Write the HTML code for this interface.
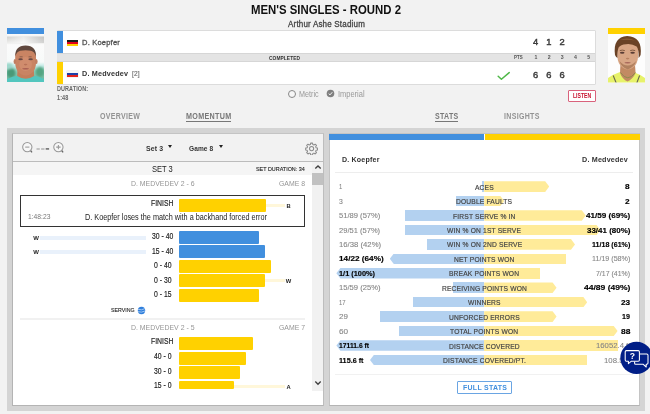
<!DOCTYPE html>
<html lang="en"><head><meta charset="utf-8"><title>Men's Singles - Round 2</title>
<style>
html,body{margin:0;padding:0}
body{width:650px;height:414px;position:relative;overflow:hidden;background:#f2f2f2;font-family:"Liberation Sans",Arial,sans-serif;}
#r{position:absolute;left:0;top:0;width:650px;height:414px;overflow:hidden}
#r>div,#r>span,#r>svg{position:absolute;display:block}
#r>span{white-space:nowrap}
</style></head><body><div id="r">
<span id="t0" style="top:3.3px;font-size:12.6px;line-height:14.49px;color:#111;font-weight:700;left:251.0px;transform:scaleX(0.9034);transform-origin:0 0;">MEN'S SINGLES - ROUND 2</span>
<span id="t1" style="top:20.21px;font-size:8.5px;line-height:9.77px;color:#444;font-weight:400;letter-spacing:0.2px;-webkit-text-stroke:0.3px #444;left:288.0px;transform:scaleX(0.9416);transform-origin:0 0;">Arthur Ashe Stadium</span>
<div style="left:6.8px;top:28.3px;width:37px;height:5.8px;background:#418fde;"></div>
<svg style="left:6.8px;top:34px" width="37" height="48.4" viewBox="0 0 37 48.4">
<defs>
<linearGradient id="lp" x1="0" y1="0" x2="0" y2="1"><stop offset="0" stop-color="#fafafa"/><stop offset="0.045" stop-color="#f4f4f4"/><stop offset="0.06" stop-color="#d2d2d0"/><stop offset="0.19" stop-color="#f0f0ee"/><stop offset="0.22" stop-color="#fbfbfb"/><stop offset="0.58" stop-color="#f7faf9"/><stop offset="0.66" stop-color="#c4ebe6"/><stop offset="0.76" stop-color="#8fd0bc"/><stop offset="1" stop-color="#62b092"/></linearGradient>
<linearGradient id="lb" x1="0" y1="0" x2="1" y2="0"><stop offset="0" stop-color="#fff" stop-opacity="0"/><stop offset="0.45" stop-color="#fff" stop-opacity="0.55"/><stop offset="1" stop-color="#b8b8b8" stop-opacity="0.5"/></linearGradient>
<filter id="bl" x="-20%" y="-20%" width="140%" height="140%"><feGaussianBlur stdDeviation="0.55"/></filter>
<filter id="bl2" x="-20%" y="-20%" width="140%" height="140%"><feGaussianBlur stdDeviation="1.1"/></filter>
<clipPath id="cl"><rect width="37" height="48.4"/></clipPath>
</defs>
<rect width="37" height="48.4" fill="url(#lp)"/>
<rect y="2.6" width="37" height="6.4" fill="url(#lb)"/>
<g clip-path="url(#cl)">
<g filter="url(#bl2)">
<ellipse cx="4" cy="39" rx="4.5" ry="5" fill="#4a9a78"/>
<ellipse cx="33" cy="38" rx="4.5" ry="5" fill="#55a482"/>
<ellipse cx="2" cy="32" rx="4" ry="3" fill="#9fd8cc"/>
</g>
<g filter="url(#bl)">
<path d="M-1 49 L-1 45.5 Q6 42.2 11.5 41.6 L26 41.6 Q31.5 42.2 38 45.5 L38 49 Z" fill="#52c6be"/>
<path d="M10.5 35 L10.2 42 Q18.6 47.5 27.2 42 L26.8 35 Z" fill="#c47e5a"/>
<path d="M8.2 25 Q7.4 13 18.6 12 Q29.8 13 29 25 Q29.6 33 26.5 37.5 Q22.5 41.6 18.6 41.6 Q14.6 41.6 10.8 37.5 Q7.6 33 8.2 25 Z" fill="#c98464"/>
<ellipse cx="7.9" cy="27.5" rx="1.3" ry="2.6" fill="#c07e60"/>
<ellipse cx="29.3" cy="27.5" rx="1.3" ry="2.6" fill="#c07e60"/>
<path d="M8.4 22.5 Q7.6 12 18.6 11.6 Q29.6 12 28.8 22.5 Q27.6 17.6 24 16.8 Q18.6 15.6 13.2 16.8 Q9.6 17.6 8.4 22.5 Z" fill="#5e463c"/>
<ellipse cx="18.6" cy="30" rx="6.4" ry="7" fill="#d39070" opacity="0.7"/>
<ellipse cx="13.6" cy="25.2" rx="2.3" ry="1" fill="#6a4a44"/>
<ellipse cx="23.6" cy="25.2" rx="2.3" ry="1" fill="#6a4a44"/>
<path d="M12.6 22.8 H15.6 M21.6 22.8 H24.6" stroke="#7a5446" stroke-width="0.8"/>
<ellipse cx="18.6" cy="30.6" rx="1.8" ry="0.8" fill="#b87258"/>
<ellipse cx="18.6" cy="34.8" rx="3.4" ry="0.8" fill="#a85e52"/>
</g>
</g>
</svg>
<div style="left:608.2px;top:28.3px;width:37px;height:5.8px;background:#ffd100;"></div>
<svg style="left:608.2px;top:34px" width="37" height="48.8" viewBox="0 0 37 48.8">
<rect width="37" height="48.8" fill="#fdfdfd"/>
<g clip-path="url(#cl)">
<g filter="url(#bl)">
<path d="M-1 50 L0 44 Q5 40.4 12 38 L25.5 38 Q32 40.4 37 44 L38 50 Z" fill="#e7f26a"/>
<path d="M5.2 41.5 L8.2 49 M31.6 41.5 L28.8 49" stroke="#6a6a50" stroke-width="1.1" fill="none"/>
<path d="M12.4 31 L12 39 Q14.5 45.5 19.5 47.5 Q24.5 45.5 27.6 39 L27 31 Z" fill="#c28a64"/>
<path d="M12.6 38.6 Q19.6 49 27.4 38.6" stroke="#8a8a4a" stroke-width="0.9" fill="none"/>
<path d="M9.2 18 Q8.6 6.5 19.6 6 Q30.8 6.5 30.2 18 Q30.6 27 27.2 31.6 Q23.4 35.6 19.8 35.6 Q16 35.6 12.4 31.6 Q8.8 27 9.2 18 Z" fill="#d8a685"/>
<path d="M11.4 27 Q13 33 19.8 35.4 Q26.4 33 28.2 27 Q24 31.6 19.8 31.6 Q15.4 31.6 11.4 27 Z" fill="#b0805e"/>
<path d="M7 21 Q4.6 3 19.2 2 Q34.6 2.6 32.6 21 Q31.6 23 30.6 24 Q31 15.6 28.6 12.6 Q24 9.4 18 10.2 Q12.6 10.6 10.6 13.6 Q9.2 17 9.4 24 Q7.8 23 7 21 Z" fill="#6a4226"/>
<path d="M12 6 Q19 2.6 27 6.4 Q21 5.4 12 6 Z" fill="#8a5a34"/>
<ellipse cx="14.2" cy="18.8" rx="2.3" ry="0.95" fill="#5a3e34"/>
<ellipse cx="24.6" cy="18.8" rx="2.3" ry="0.95" fill="#5a3e34"/>
<path d="M11.8 16.6 Q14.2 15.6 16.8 16.6 M22.2 16.6 Q24.8 15.6 27.2 16.6" stroke="#6a4630" stroke-width="0.8" fill="none"/>
<ellipse cx="19.6" cy="24.6" rx="1.8" ry="0.8" fill="#b88262"/>
<ellipse cx="19.6" cy="28.8" rx="3.2" ry="0.75" fill="#a8685a"/>
</g>
</g>
</svg>
<div style="left:56.6px;top:30px;width:539px;height:54.5px;background:#fff;border:1px solid #dcdcdc;box-sizing:border-box;border-radius:1px;"></div>
<div style="left:57px;top:53px;width:538.2px;height:8.6px;background:#e4e4e4;border-top:1px solid #d6d6d6;border-bottom:1px solid #d6d6d6;box-sizing:border-box;"></div>
<div style="left:57.2px;top:30.6px;width:5.8px;height:22.2px;background:#418fde;"></div>
<div style="left:57.2px;top:61.6px;width:5.8px;height:22.2px;background:#ffd100;"></div>
<div style="left:67.2px;top:39.6px;width:10.8px;height:6.8px;background:linear-gradient(#1a1a1a 0 33%,#e2001a 33% 66%,#ffce00 66% 100%)"></div>
<div style="left:67.2px;top:70.7px;width:10.8px;height:6.6px;background:linear-gradient(#f6f6f6 0 30%,#1c3fa8 30% 66%,#e2231a 66% 100%);box-shadow:0 0 0 0.4px #e4e4e4"></div>
<span id="t2" style="top:38.39px;font-size:8px;line-height:9.2px;color:#505050;font-weight:400;letter-spacing:0.2px;-webkit-text-stroke:0.3px #505050;left:82px;transform:scaleX(0.9438);transform-origin:0 0;">D. Koepfer</span>
<span id="t3" style="top:69.09px;font-size:8px;line-height:9.2px;color:#333;font-weight:700;letter-spacing:0.2px;left:82px;transform:scaleX(0.9036);transform-origin:0 0;">D. Medvedev</span>
<span id="t4" style="top:70.14px;font-size:6.5px;line-height:7.47px;color:#777;font-weight:400;letter-spacing:0.2px;-webkit-text-stroke:0.2px #777;left:132px;transform:scaleX(0.9963);transform-origin:0 0;">[2]</span>
<span id="t5" style="top:53.51px;font-size:6.2px;line-height:7.13px;color:#333;font-weight:700;letter-spacing:0.1px;left:268.5px;transform:scaleX(0.7818);transform-origin:0 0;">COMPLETED</span>
<span id="t6" style="top:36.66px;font-size:9.3px;line-height:10.7px;color:#3c3c3c;font-weight:400;-webkit-text-stroke:0.45px #3c3c3c;left:532.91px;">4</span>
<span id="t7" style="top:36.66px;font-size:9.3px;line-height:10.7px;color:#3c3c3c;font-weight:400;-webkit-text-stroke:0.45px #3c3c3c;left:546.21px;">1</span>
<span id="t8" style="top:36.66px;font-size:9.3px;line-height:10.7px;color:#3c3c3c;font-weight:400;-webkit-text-stroke:0.45px #3c3c3c;left:559.41px;">2</span>
<span id="t9" style="top:70.06px;font-size:9.3px;line-height:10.7px;color:#3c3c3c;font-weight:400;-webkit-text-stroke:0.45px #3c3c3c;left:532.91px;">6</span>
<span id="t10" style="top:70.06px;font-size:9.3px;line-height:10.7px;color:#3c3c3c;font-weight:400;-webkit-text-stroke:0.45px #3c3c3c;left:546.21px;">6</span>
<span id="t11" style="top:70.06px;font-size:9.3px;line-height:10.7px;color:#3c3c3c;font-weight:400;-webkit-text-stroke:0.45px #3c3c3c;left:559.41px;">6</span>
<span id="t12" style="top:54.58px;font-size:5px;line-height:5.75px;color:#555;font-weight:700;left:514.2px;transform:scaleX(0.8835);transform-origin:0 0;">PTS</span>
<span id="t13" style="top:54.47px;font-size:5.2px;line-height:5.98px;color:#555;font-weight:700;left:534.55px;">1</span>
<span id="t14" style="top:54.47px;font-size:5.2px;line-height:5.98px;color:#555;font-weight:700;left:547.75px;">2</span>
<span id="t15" style="top:54.47px;font-size:5.2px;line-height:5.98px;color:#555;font-weight:700;left:560.65px;">3</span>
<span id="t16" style="top:54.47px;font-size:5.2px;line-height:5.98px;color:#555;font-weight:700;left:574.05px;">4</span>
<span id="t17" style="top:54.47px;font-size:5.2px;line-height:5.98px;color:#555;font-weight:700;left:587.35px;">5</span>
<svg style="left:496px;top:70px" width="16" height="12" viewBox="0 0 16 12"><path d="M2.2 6.2 L5.4 9.2 L13.2 2.6" fill="none" stroke="#4fb848" stroke-width="1.5" stroke-linecap="round" stroke-linejoin="round"/></svg>
<span id="t18" style="top:84.95px;font-size:6.3px;line-height:7.24px;color:#666;font-weight:700;letter-spacing:0.1px;left:57px;transform:scaleX(0.8692);transform-origin:0 0;">DURATION:</span>
<span id="t19" style="top:93.75px;font-size:6.3px;line-height:7.24px;color:#666;font-weight:700;letter-spacing:0.1px;left:57px;transform:scaleX(0.8749);transform-origin:0 0;">1:48</span>
<div style="left:287.6px;top:89.8px;width:8px;height:8px;border:1px solid #888;border-radius:50%;box-sizing:border-box;background:#f6f6f6"></div>
<span id="t20" style="top:90.18px;font-size:8.2px;line-height:9.43px;color:#999;font-weight:400;left:299.4px;transform:scaleX(0.879);transform-origin:0 0;">Metric</span>
<svg style="left:325.6px;top:89.1px" width="9" height="9" viewBox="0 0 9 9"><circle cx="4.5" cy="4.5" r="3.8" fill="#808080"/><path d="M2.7 4.6 L4 5.9 L6.3 3.2" fill="none" stroke="#f2f2f2" stroke-width="1"/></svg>
<span id="t21" style="top:90.18px;font-size:8.2px;line-height:9.43px;color:#999;font-weight:400;left:337.7px;transform:scaleX(0.9133);transform-origin:0 0;">Imperial</span>
<div style="left:568.4px;top:89.6px;width:27.2px;height:12px;background:#fff;border:1px solid #d9627c;box-sizing:border-box;border-radius:1px;"></div>
<span id="t22" style="top:92.09px;font-size:6.4px;line-height:7.36px;color:#c8102e;font-weight:700;left:573.1px;transform:scaleX(0.8005);transform-origin:0 0;">LISTEN</span>
<span id="t23" style="top:111.13px;font-size:9px;line-height:10.35px;color:#939393;font-weight:700;letter-spacing:0.4px;left:99.8px;transform:scaleX(0.78);transform-origin:0 0;">OVERVIEW</span>
<span id="t24" style="top:111.13px;font-size:9px;line-height:10.35px;color:#787878;font-weight:700;letter-spacing:0.4px;left:185.9px;transform:scaleX(0.7975);transform-origin:0 0;">MOMENTUM</span>
<div style="left:185.8px;top:120.5px;width:45.4px;height:1px;background:#777;"></div>
<span id="t25" style="top:111.13px;font-size:9px;line-height:10.35px;color:#787878;font-weight:700;letter-spacing:0.4px;left:435px;transform:scaleX(0.78);transform-origin:0 0;">STATS</span>
<div style="left:435px;top:120.5px;width:22.8px;height:1px;background:#777;"></div>
<span id="t26" style="top:111.13px;font-size:9px;line-height:10.35px;color:#939393;font-weight:700;letter-spacing:0.4px;left:504.3px;transform:scaleX(0.78);transform-origin:0 0;">INSIGHTS</span>
<div style="left:7px;top:128px;width:638.2px;height:282.8px;background:#d4d4d4;"></div>
<div style="left:12.4px;top:133px;width:311.2px;height:272.6px;background:#fff;border:1px solid #b4b4b4;box-sizing:border-box;border-right-color:#bdbdbd;border-top-color:#c4c4c4;"></div>
<div style="left:13.4px;top:134px;width:309.4px;height:27px;background:#f2f2f2;"></div>
<div style="left:13.4px;top:161px;width:309.4px;height:0.8px;background:#bcbcbc;"></div>
<div style="left:13.4px;top:161.8px;width:298.8px;height:13.6px;background:#f5f5f5;"></div>
<svg style="left:20px;top:139px" width="46" height="18" viewBox="0 0 46 18">
<g fill="#f7f7f7" stroke="#999" stroke-width="1.05">
<path d="M10.5 11.5 L12 13.4" stroke="#666" stroke-width="1.3" fill="none"/>
<circle cx="7.3" cy="8.1" r="4.65"/><path d="M5.2 8.1 H9.4" fill="none"/>
<path d="M41.6 11.5 L43.1 13.4" stroke="#666" stroke-width="1.3" fill="none"/>
<circle cx="38.4" cy="8.1" r="4.65"/><path d="M36.2 8.1 H40.6 M38.4 5.9 V10.3" fill="none"/>
</g>
<path d="M16.5 9.9 H19.8 M21.1 9.9 H24.5" stroke="#b4b4b4" stroke-width="1.5"/><path d="M25.7 9.9 H29.1" stroke="#707070" stroke-width="1.6"/>
</svg>
<span id="t27" style="top:145.17px;font-size:6.8px;line-height:7.82px;color:#333;font-weight:700;letter-spacing:0.1px;left:145.6px;transform:scaleX(1.021);transform-origin:0 0;">Set 3</span>
<div style="left:168.1px;top:144.5px;width:0;height:0;border-left:2.8px solid transparent;border-right:2.8px solid transparent;border-top:3.9px solid #222;"></div>
<span id="t28" style="top:145.17px;font-size:6.8px;line-height:7.82px;color:#333;font-weight:700;letter-spacing:0.1px;left:189px;transform:scaleX(0.9652);transform-origin:0 0;">Game 8</span>
<div style="left:219.1px;top:144.5px;width:0;height:0;border-left:2.8px solid transparent;border-right:2.8px solid transparent;border-top:3.9px solid #222;"></div>
<svg style="left:304.9px;top:141.5px" width="13.2" height="13.2" viewBox="0 0 14 14">
<g fill="none" stroke="#8c8c8c" stroke-width="1.1" stroke-linejoin="round"><circle cx="7" cy="7" r="2.2"/>
<path d="M6 1.2 h2 l0.3 1.5 l1.2 0.5 l1.3 -0.9 l1.4 1.4 l-0.9 1.3 l0.5 1.2 l1.5 0.3 v2 l-1.5 0.3 l-0.5 1.2 l0.9 1.3 l-1.4 1.4 l-1.3 -0.9 l-1.2 0.5 l-0.3 1.5 h-2 l-0.3 -1.5 l-1.2 -0.5 l-1.3 0.9 l-1.4 -1.4 l0.9 -1.3 l-0.5 -1.2 l-1.5 -0.3 v-2 l1.5 -0.3 l0.5 -1.2 l-0.9 -1.3 l1.4 -1.4 l1.3 0.9 l1.2 -0.5 z"/></g></svg>
<span id="t29" style="top:164.1px;font-size:8.7px;line-height:10.0px;color:#222;font-weight:400;left:151.8px;transform:scaleX(0.8672);transform-origin:0 0;">SET 3</span>
<span id="t30" style="top:165.63px;font-size:5.8px;line-height:6.67px;color:#222;font-weight:400;-webkit-text-stroke:0.12px #222;left:256.0px;transform:scaleX(0.9331);transform-origin:0 0;">SET DURATION: 34</span>
<div style="left:312.2px;top:161.8px;width:10.5px;height:229.4px;background:#f1f1f1;"></div>
<div style="left:312.2px;top:172.8px;width:10.5px;height:12.2px;background:#c1c1c1;"></div>
<svg style="left:312.5px;top:162px" width="10" height="10" viewBox="0 0 10 10"><path d="M2.3 6.6 L5 3.9 L7.7 6.6" fill="none" stroke="#404040" stroke-width="1.35"/></svg>
<svg style="left:312.5px;top:377.8px" width="10" height="10" viewBox="0 0 10 10"><path d="M2.3 3.6 L5 6.3 L7.7 3.6" fill="none" stroke="#404040" stroke-width="1.35"/></svg>
<span id="t31" style="top:180.1px;font-size:7.8px;line-height:8.97px;color:#959595;font-weight:400;left:130.5px;transform:scaleX(0.8881);transform-origin:0 0;">D. MEDVEDEV 2 - 6</span>
<span id="t32" style="top:180.1px;font-size:7.8px;line-height:8.97px;color:#959595;font-weight:400;left:279.0px;transform:scaleX(0.8823);transform-origin:0 0;">GAME 8</span>
<div style="left:20.2px;top:195.2px;width:285px;height:31.4px;background:#fff;border:1px solid #333;box-sizing:border-box;"></div>
<span id="t33" style="top:198.58px;font-size:8.2px;line-height:9.43px;color:#1a1a1a;font-weight:400;-webkit-text-stroke:0.15px #1a1a1a;left:151.09px;transform:scaleX(0.835);transform-origin:0 0;">FINISH</span>
<div style="left:178.8px;top:199.15px;width:86.8px;height:12.7px;background:#ffd100;border-radius:1px;"></div>
<div style="left:265.8px;top:203.8px;width:19.0px;height:3.4px;background:#fff7da;"></div>
<span id="t34" style="top:202.63px;font-size:5.8px;line-height:6.67px;color:#222;font-weight:700;left:286.51px;">B</span>
<span id="t35" style="top:212.78px;font-size:7.5px;line-height:8.62px;color:#777;font-weight:400;left:27.6px;transform:scaleX(0.8949);transform-origin:0 0;">1:48:23</span>
<span id="t36" style="top:213.48px;font-size:8.2px;line-height:9.43px;color:#222;font-weight:400;left:84.5px;transform:scaleX(0.8882);transform-origin:0 0;">D. Koepfer loses the match with a backhand forced error</span>
<span id="t37" style="top:232.08px;font-size:8.2px;line-height:9.43px;color:#1a1a1a;font-weight:400;-webkit-text-stroke:0.15px #1a1a1a;left:151.65px;transform:scaleX(0.835);transform-origin:0 0;">30 - 40</span>
<div style="left:178.8px;top:230.95px;width:80px;height:12.7px;background:#418fde;border-radius:1px;"></div>
<div style="left:40px;top:235.6px;width:106.4px;height:4.0px;background:#e9f1fb;"></div>
<span id="t38" style="top:234.92px;font-size:6.0px;line-height:6.9px;color:#222;font-weight:700;left:33.36px;">W</span>
<span id="t39" style="top:246.58px;font-size:8.2px;line-height:9.43px;color:#1a1a1a;font-weight:400;-webkit-text-stroke:0.15px #1a1a1a;left:151.65px;transform:scaleX(0.835);transform-origin:0 0;">15 - 40</span>
<div style="left:178.8px;top:245.45px;width:86.4px;height:12.7px;background:#418fde;border-radius:1px;"></div>
<div style="left:40px;top:250.1px;width:106.4px;height:4.0px;background:#e9f1fb;"></div>
<span id="t40" style="top:249.42px;font-size:6.0px;line-height:6.9px;color:#222;font-weight:700;left:33.36px;">W</span>
<span id="t41" style="top:261.08px;font-size:8.2px;line-height:9.43px;color:#1a1a1a;font-weight:400;-webkit-text-stroke:0.15px #1a1a1a;left:153.56px;transform:scaleX(0.835);transform-origin:0 0;">0 - 40</span>
<div style="left:178.8px;top:259.95px;width:92.2px;height:12.7px;background:#ffd100;border-radius:1px;"></div>
<span id="t42" style="top:275.58px;font-size:8.2px;line-height:9.43px;color:#1a1a1a;font-weight:400;-webkit-text-stroke:0.15px #1a1a1a;left:153.56px;transform:scaleX(0.835);transform-origin:0 0;">0 - 30</span>
<div style="left:178.8px;top:274.45px;width:86.4px;height:12.7px;background:#ffd100;border-radius:1px;"></div>
<div style="left:265.4px;top:279.1px;width:19.4px;height:3.4px;background:#fff7da;"></div>
<span id="t43" style="top:277.73px;font-size:5.8px;line-height:6.67px;color:#222;font-weight:700;left:285.86px;">W</span>
<span id="t44" style="top:290.08px;font-size:8.2px;line-height:9.43px;color:#1a1a1a;font-weight:400;-webkit-text-stroke:0.15px #1a1a1a;left:153.56px;transform:scaleX(0.835);transform-origin:0 0;">0 - 15</span>
<div style="left:178.8px;top:288.95px;width:80px;height:12.7px;background:#ffd100;border-radius:1px;"></div>
<span id="t45" style="top:307.14px;font-size:5.6px;line-height:6.44px;color:#222;font-weight:400;-webkit-text-stroke:0.1px #222;left:110.6px;transform:scaleX(0.9411);transform-origin:0 0;">SERVING</span>
<svg style="left:137.4px;top:305.5px" width="9" height="9" viewBox="0 0 9 9"><circle cx="4.5" cy="4.5" r="3.7" fill="#2f7fdc"/><path d="M1 3.3 Q4.5 4.6 8 2.6 M0.8 5.6 Q4.5 7 8.2 4.9" fill="none" stroke="#cfe3fa" stroke-width="0.7"/></svg>
<div style="left:20.2px;top:317.6px;width:285px;height:2.0px;background:#f1f1f1;"></div>
<span id="t46" style="top:324.1px;font-size:7.8px;line-height:8.97px;color:#959595;font-weight:400;left:130.5px;transform:scaleX(0.8881);transform-origin:0 0;">D. MEDVEDEV 2 - 5</span>
<span id="t47" style="top:324.1px;font-size:7.8px;line-height:8.97px;color:#959595;font-weight:400;left:279.0px;transform:scaleX(0.8823);transform-origin:0 0;">GAME 7</span>
<span id="t48" style="top:337.38px;font-size:8.2px;line-height:9.43px;color:#1a1a1a;font-weight:400;-webkit-text-stroke:0.15px #1a1a1a;left:151.09px;transform:scaleX(0.835);transform-origin:0 0;">FINISH</span>
<div style="left:178.8px;top:337.35px;width:74px;height:12.7px;background:#ffd100;border-radius:1px;"></div>
<span id="t49" style="top:351.98px;font-size:8.2px;line-height:9.43px;color:#1a1a1a;font-weight:400;-webkit-text-stroke:0.15px #1a1a1a;left:153.56px;transform:scaleX(0.835);transform-origin:0 0;">40 - 0</span>
<div style="left:178.8px;top:351.85px;width:67.6px;height:12.7px;background:#ffd100;border-radius:1px;"></div>
<span id="t50" style="top:366.78px;font-size:8.2px;line-height:9.43px;color:#1a1a1a;font-weight:400;-webkit-text-stroke:0.15px #1a1a1a;left:153.56px;transform:scaleX(0.835);transform-origin:0 0;">30 - 0</span>
<div style="left:178.8px;top:366.35px;width:61.6px;height:12.7px;background:#ffd100;border-radius:1px;"></div>
<span id="t51" style="top:381.18px;font-size:8.2px;line-height:9.43px;color:#1a1a1a;font-weight:400;-webkit-text-stroke:0.15px #1a1a1a;left:153.56px;transform:scaleX(0.835);transform-origin:0 0;">15 - 0</span>
<div style="left:178.8px;top:381.0px;width:55.4px;height:8.0px;background:#ffd100;border-radius:1px;"></div>
<div style="left:234.4px;top:384.8px;width:50.4px;height:3.4px;background:#fff7da;"></div>
<span id="t52" style="top:383.53px;font-size:5.8px;line-height:6.67px;color:#222;font-weight:700;left:286.51px;">A</span>
<div style="left:328.8px;top:133.4px;width:311px;height:272.2px;background:#fff;border:1px solid #c4c4c4;box-sizing:border-box;border-bottom-color:#b4b4b4;"></div>
<div style="left:329px;top:133.9px;width:154.8px;height:6.2px;background:#418fde;"></div>
<div style="left:485.4px;top:133.9px;width:154.4px;height:6.2px;background:#ffd100;"></div>
<span id="t53" style="top:155.52px;font-size:7.6px;line-height:8.74px;color:#333;font-weight:700;letter-spacing:0.2px;left:342.2px;transform:scaleX(0.9302);transform-origin:0 0;">D. Koepfer</span>
<span id="t54" style="top:155.52px;font-size:7.6px;line-height:8.74px;color:#333;font-weight:700;letter-spacing:0.2px;left:581.6px;transform:scaleX(0.9458);transform-origin:0 0;">D. Medvedev</span>
<div style="left:335.4px;top:172.2px;width:297.6px;height:0.8px;background:#ededed;"></div>
<div style="left:482px;top:181.3px;width:2.2px;height:10.6px;background:#b3d1f0;"></div>
<div style="left:484.2px;top:181.3px;width:65.0px;height:10.6px;background:#ffeb99;clip-path:polygon(0 0,calc(100% - 4px) 0,100% 50%,calc(100% - 4px) 100%,0 100%)"></div>
<span id="t55" style="top:182.69px;font-size:8.0px;line-height:9.2px;color:#444;font-weight:400;letter-spacing:0.2px;-webkit-text-stroke:0.2px #444;left:475.05px;transform:scaleX(0.835);transform-origin:0 0;">ACES</span>
<span id="t56" style="top:183.22px;font-size:7.6px;line-height:8.74px;color:#858585;font-weight:400;-webkit-text-stroke:0.1px #858585;left:339px;transform:scaleX(0.78);transform-origin:0 0;">1</span>
<span id="t57" style="top:183.22px;font-size:7.6px;line-height:8.74px;color:#000;font-weight:700;-webkit-text-stroke:0.15px #000;left:625.4px;transform:scaleX(1.0863);transform-origin:0 0;">8</span>
<div style="left:456px;top:195.74px;width:28.2px;height:10.6px;background:#b3d1f0;"></div>
<div style="left:484.2px;top:195.74px;width:20.0px;height:10.6px;background:#ffeb99;clip-path:polygon(0 0,calc(100% - 4px) 0,100% 50%,calc(100% - 4px) 100%,0 100%)"></div>
<span id="t58" style="top:197.14px;font-size:8.0px;line-height:9.2px;color:#444;font-weight:400;letter-spacing:0.2px;-webkit-text-stroke:0.2px #444;left:456.36px;transform:scaleX(0.835);transform-origin:0 0;">DOUBLE FAULTS</span>
<span id="t59" style="top:197.66px;font-size:7.6px;line-height:8.74px;color:#858585;font-weight:400;-webkit-text-stroke:0.1px #858585;left:339px;transform:scaleX(0.8974);transform-origin:0 0;">3</span>
<span id="t60" style="top:197.66px;font-size:7.6px;line-height:8.74px;color:#000;font-weight:700;-webkit-text-stroke:0.15px #000;left:625.4px;transform:scaleX(1.0863);transform-origin:0 0;">2</span>
<div style="left:405px;top:210.19px;width:79.2px;height:10.6px;background:#b3d1f0;"></div>
<div style="left:484.2px;top:210.19px;width:101.6px;height:10.6px;background:#ffeb99;clip-path:polygon(0 0,calc(100% - 4px) 0,100% 50%,calc(100% - 4px) 100%,0 100%)"></div>
<span id="t61" style="top:211.58px;font-size:8.0px;line-height:9.2px;color:#444;font-weight:400;letter-spacing:0.2px;-webkit-text-stroke:0.2px #444;left:453.2px;transform:scaleX(0.835);transform-origin:0 0;">FIRST SERVE % IN</span>
<span id="t62" style="top:212.11px;font-size:7.6px;line-height:8.74px;color:#858585;font-weight:400;-webkit-text-stroke:0.1px #858585;left:339px;">51/89 (57%)</span>
<span id="t63" style="top:212.11px;font-size:7.6px;line-height:8.74px;color:#000;font-weight:700;-webkit-text-stroke:0.15px #000;left:585.8px;transform:scaleX(1.0683);transform-origin:0 0;">41/59 (69%)</span>
<div style="left:405px;top:224.63px;width:79.2px;height:10.6px;background:#b3d1f0;"></div>
<div style="left:484.2px;top:224.63px;width:116.2px;height:10.6px;background:#ffeb99;clip-path:polygon(0 0,calc(100% - 4px) 0,100% 50%,calc(100% - 4px) 100%,0 100%)"></div>
<span id="t64" style="top:226.03px;font-size:8.0px;line-height:9.2px;color:#444;font-weight:400;letter-spacing:0.2px;-webkit-text-stroke:0.2px #444;left:447.46px;transform:scaleX(0.835);transform-origin:0 0;">WIN % ON 1ST SERVE</span>
<span id="t65" style="top:226.55px;font-size:7.6px;line-height:8.74px;color:#858585;font-weight:400;-webkit-text-stroke:0.1px #858585;left:339px;transform:scaleX(0.9934);transform-origin:0 0;">29/51 (57%)</span>
<span id="t66" style="top:226.55px;font-size:7.6px;line-height:8.74px;color:#000;font-weight:700;-webkit-text-stroke:0.15px #000;left:586.6px;transform:scaleX(1.0489);transform-origin:0 0;">33/41 (80%)</span>
<div style="left:427px;top:239.08px;width:57.2px;height:10.6px;background:#b3d1f0;"></div>
<div style="left:484.2px;top:239.08px;width:90.8px;height:10.6px;background:#ffeb99;clip-path:polygon(0 0,calc(100% - 4px) 0,100% 50%,calc(100% - 4px) 100%,0 100%)"></div>
<span id="t67" style="top:240.47px;font-size:8.0px;line-height:9.2px;color:#444;font-weight:400;letter-spacing:0.2px;-webkit-text-stroke:0.2px #444;left:446.85px;transform:scaleX(0.835);transform-origin:0 0;">WIN % ON 2ND SERVE</span>
<span id="t68" style="top:241.0px;font-size:7.6px;line-height:8.74px;color:#858585;font-weight:400;-webkit-text-stroke:0.1px #858585;left:339px;transform:scaleX(1.0175);transform-origin:0 0;">16/38 (42%)</span>
<span id="t69" style="top:241.0px;font-size:7.6px;line-height:8.74px;color:#000;font-weight:700;-webkit-text-stroke:0.15px #000;left:591.7px;transform:scaleX(0.9352);transform-origin:0 0;">11/18 (61%)</span>
<div style="left:389.8px;top:253.52px;width:94.4px;height:10.6px;background:#b3d1f0;clip-path:polygon(4px 0,100% 0,100% 100%,4px 100%,0 50%)"></div>
<div style="left:484.2px;top:253.52px;width:81.4px;height:10.6px;background:#ffeb99;"></div>
<span id="t70" style="top:254.92px;font-size:8.0px;line-height:9.2px;color:#444;font-weight:400;letter-spacing:0.2px;-webkit-text-stroke:0.2px #444;left:454.24px;transform:scaleX(0.835);transform-origin:0 0;">NET POINTS WON</span>
<span id="t71" style="top:255.44px;font-size:7.6px;line-height:8.74px;color:#000;font-weight:700;-webkit-text-stroke:0.15px #000;left:339px;transform:scaleX(1.0804);transform-origin:0 0;">14/22 (64%)</span>
<span id="t72" style="top:255.44px;font-size:7.6px;line-height:8.74px;color:#858585;font-weight:400;-webkit-text-stroke:0.1px #858585;left:591.7px;transform:scaleX(0.9384);transform-origin:0 0;">11/19 (58%)</span>
<div style="left:336.4px;top:267.97px;width:147.8px;height:10.6px;background:#b3d1f0;clip-path:polygon(4px 0,100% 0,100% 100%,4px 100%,0 50%)"></div>
<div style="left:484.2px;top:267.97px;width:55.6px;height:10.6px;background:#ffeb99;"></div>
<span id="t73" style="top:269.36px;font-size:8.0px;line-height:9.2px;color:#444;font-weight:400;letter-spacing:0.2px;-webkit-text-stroke:0.2px #444;left:449.37px;transform:scaleX(0.835);transform-origin:0 0;">BREAK POINTS WON</span>
<span id="t74" style="top:269.89px;font-size:7.6px;line-height:8.74px;color:#000;font-weight:700;-webkit-text-stroke:0.15px #000;left:339px;transform:scaleX(0.9689);transform-origin:0 0;">1/1 (100%)</span>
<span id="t75" style="top:269.89px;font-size:7.6px;line-height:8.74px;color:#858585;font-weight:400;-webkit-text-stroke:0.1px #858585;left:596.0px;transform:scaleX(0.9151);transform-origin:0 0;">7/17 (41%)</span>
<div style="left:453px;top:282.42px;width:31.2px;height:10.6px;background:#b3d1f0;"></div>
<div style="left:484.2px;top:282.42px;width:72.4px;height:10.6px;background:#ffeb99;clip-path:polygon(0 0,calc(100% - 4px) 0,100% 50%,calc(100% - 4px) 100%,0 100%)"></div>
<span id="t76" style="top:283.81px;font-size:8.0px;line-height:9.2px;color:#444;font-weight:400;letter-spacing:0.2px;-webkit-text-stroke:0.2px #444;left:441.98px;transform:scaleX(0.835);transform-origin:0 0;">RECEIVING POINTS WON</span>
<span id="t77" style="top:284.33px;font-size:7.6px;line-height:8.74px;color:#858585;font-weight:400;-webkit-text-stroke:0.1px #858585;left:339px;transform:scaleX(1.0054);transform-origin:0 0;">15/59 (25%)</span>
<span id="t78" style="top:284.33px;font-size:7.6px;line-height:8.74px;color:#000;font-weight:700;-webkit-text-stroke:0.15px #000;left:583.6px;transform:scaleX(1.1215);transform-origin:0 0;">44/89 (49%)</span>
<div style="left:413px;top:296.86px;width:71.2px;height:10.6px;background:#b3d1f0;"></div>
<div style="left:484.2px;top:296.86px;width:103.0px;height:10.6px;background:#ffeb99;clip-path:polygon(0 0,calc(100% - 4px) 0,100% 50%,calc(100% - 4px) 100%,0 100%)"></div>
<span id="t79" style="top:298.25px;font-size:8.0px;line-height:9.2px;color:#444;font-weight:400;letter-spacing:0.2px;-webkit-text-stroke:0.2px #444;left:468.12px;transform:scaleX(0.835);transform-origin:0 0;">WINNERS</span>
<span id="t80" style="top:298.78px;font-size:7.6px;line-height:8.74px;color:#858585;font-weight:400;-webkit-text-stroke:0.1px #858585;left:339px;transform:scaleX(0.78);transform-origin:0 0;">17</span>
<span id="t81" style="top:298.78px;font-size:7.6px;line-height:8.74px;color:#000;font-weight:700;-webkit-text-stroke:0.15px #000;left:620.9px;transform:scaleX(1.0765);transform-origin:0 0;">23</span>
<div style="left:380.2px;top:311.31px;width:104.0px;height:10.6px;background:#b3d1f0;"></div>
<div style="left:484.2px;top:311.31px;width:72.4px;height:10.6px;background:#ffeb99;clip-path:polygon(0 0,calc(100% - 4px) 0,100% 50%,calc(100% - 4px) 100%,0 100%)"></div>
<span id="t82" style="top:312.7px;font-size:8.0px;line-height:9.2px;color:#444;font-weight:400;letter-spacing:0.2px;-webkit-text-stroke:0.2px #444;left:449.09px;transform:scaleX(0.835);transform-origin:0 0;">UNFORCED ERRORS</span>
<span id="t83" style="top:313.22px;font-size:7.6px;line-height:8.74px;color:#858585;font-weight:400;-webkit-text-stroke:0.1px #858585;left:339px;transform:scaleX(1.0529);transform-origin:0 0;">29</span>
<span id="t84" style="top:313.22px;font-size:7.6px;line-height:8.74px;color:#000;font-weight:700;-webkit-text-stroke:0.15px #000;left:622.1px;transform:scaleX(0.9346);transform-origin:0 0;">19</span>
<div style="left:399px;top:325.75px;width:85.2px;height:10.6px;background:#b3d1f0;"></div>
<div style="left:484.2px;top:325.75px;width:133.4px;height:10.6px;background:#ffeb99;clip-path:polygon(0 0,calc(100% - 4px) 0,100% 50%,calc(100% - 4px) 100%,0 100%)"></div>
<span id="t85" style="top:327.14px;font-size:8.0px;line-height:9.2px;color:#444;font-weight:400;letter-spacing:0.2px;-webkit-text-stroke:0.2px #444;left:450.36px;transform:scaleX(0.835);transform-origin:0 0;">TOTAL POINTS WON</span>
<span id="t86" style="top:327.67px;font-size:7.6px;line-height:8.74px;color:#858585;font-weight:400;-webkit-text-stroke:0.1px #858585;left:339px;transform:scaleX(1.0765);transform-origin:0 0;">60</span>
<span id="t87" style="top:327.67px;font-size:7.6px;line-height:8.74px;color:#000;font-weight:700;-webkit-text-stroke:0.15px #000;left:620.6px;transform:scaleX(1.112);transform-origin:0 0;">88</span>
<div style="left:336.4px;top:340.19px;width:147.8px;height:10.6px;background:#b3d1f0;clip-path:polygon(4px 0,100% 0,100% 100%,4px 100%,0 50%)"></div>
<div style="left:484.2px;top:340.19px;width:134.0px;height:10.6px;background:#ffeb99;"></div>
<span id="t88" style="top:341.59px;font-size:8.0px;line-height:9.2px;color:#444;font-weight:400;letter-spacing:0.2px;-webkit-text-stroke:0.2px #444;left:449.06px;transform:scaleX(0.835);transform-origin:0 0;">DISTANCE COVERED</span>
<span id="t89" style="top:342.11px;font-size:7.6px;line-height:8.74px;color:#000;font-weight:700;-webkit-text-stroke:0.15px #000;left:339px;transform:scaleX(0.8881);transform-origin:0 0;">17111.6 ft</span>
<span id="t90" style="top:342.11px;font-size:7.6px;line-height:8.74px;color:#858585;font-weight:400;-webkit-text-stroke:0.1px #858585;left:595.6px;transform:scaleX(1.0183);transform-origin:0 0;">16052.4 ft</span>
<div style="left:370px;top:354.64px;width:114.2px;height:10.6px;background:#b3d1f0;clip-path:polygon(4px 0,100% 0,100% 100%,4px 100%,0 50%)"></div>
<div style="left:484.2px;top:354.64px;width:103.0px;height:10.6px;background:#ffeb99;"></div>
<span id="t91" style="top:356.03px;font-size:8.0px;line-height:9.2px;color:#444;font-weight:400;letter-spacing:0.2px;-webkit-text-stroke:0.2px #444;left:442.97px;transform:scaleX(0.835);transform-origin:0 0;">DISTANCE COVERED/PT.</span>
<span id="t92" style="top:356.56px;font-size:7.6px;line-height:8.74px;color:#000;font-weight:700;-webkit-text-stroke:0.15px #000;left:339px;transform:scaleX(0.9509);transform-origin:0 0;">115.6 ft</span>
<span id="t93" style="top:356.56px;font-size:7.6px;line-height:8.74px;color:#858585;font-weight:400;-webkit-text-stroke:0.1px #858585;left:604.0px;transform:scaleX(1.0259);transform-origin:0 0;">108.5 ft</span>
<div style="left:335.4px;top:374.2px;width:297.6px;height:0.8px;background:#f1f1f1;"></div>
<div style="left:457.4px;top:381.4px;width:54.2px;height:12.2px;background:#fff;border:1px solid #6aa5e3;box-sizing:border-box;border-radius:1px;"></div>
<span id="t94" style="top:383.54px;font-size:7.2px;line-height:8.28px;color:#418fde;font-weight:700;letter-spacing:0.3px;left:462.5px;transform:scaleX(0.9684);transform-origin:0 0;">FULL STATS</span>
<svg style="left:620px;top:341px" width="30" height="34" viewBox="0 0 30 34">
<circle cx="16.5" cy="16.8" r="16.15" fill="#001e87"/>
<g fill="none" stroke="#fff" stroke-width="1.05" stroke-linejoin="round">
<path d="M19.8 13 H26.8 Q28 13 28 14.2 V22 Q28 23.2 26.8 23.2 H26.2 V26 L23 23.2 H15.6 Q14.6 23.2 14.6 22.2 V20.6"/>
<path d="M6.4 9.6 H18.2 Q19.4 9.6 19.4 10.8 V19 Q19.4 20.2 18.2 20.2 H11.4 L8.4 22.6 V20.2 H6.4 Q5.2 20.2 5.2 19 V10.8 Q5.2 9.6 6.4 9.6 Z" fill="#001e87"/>
</g>
<text x="12.3" y="18.1" font-family="Liberation Sans, sans-serif" font-size="8.6" font-weight="700" fill="#fff" text-anchor="middle">?</text>
</svg>
</div></body></html>
